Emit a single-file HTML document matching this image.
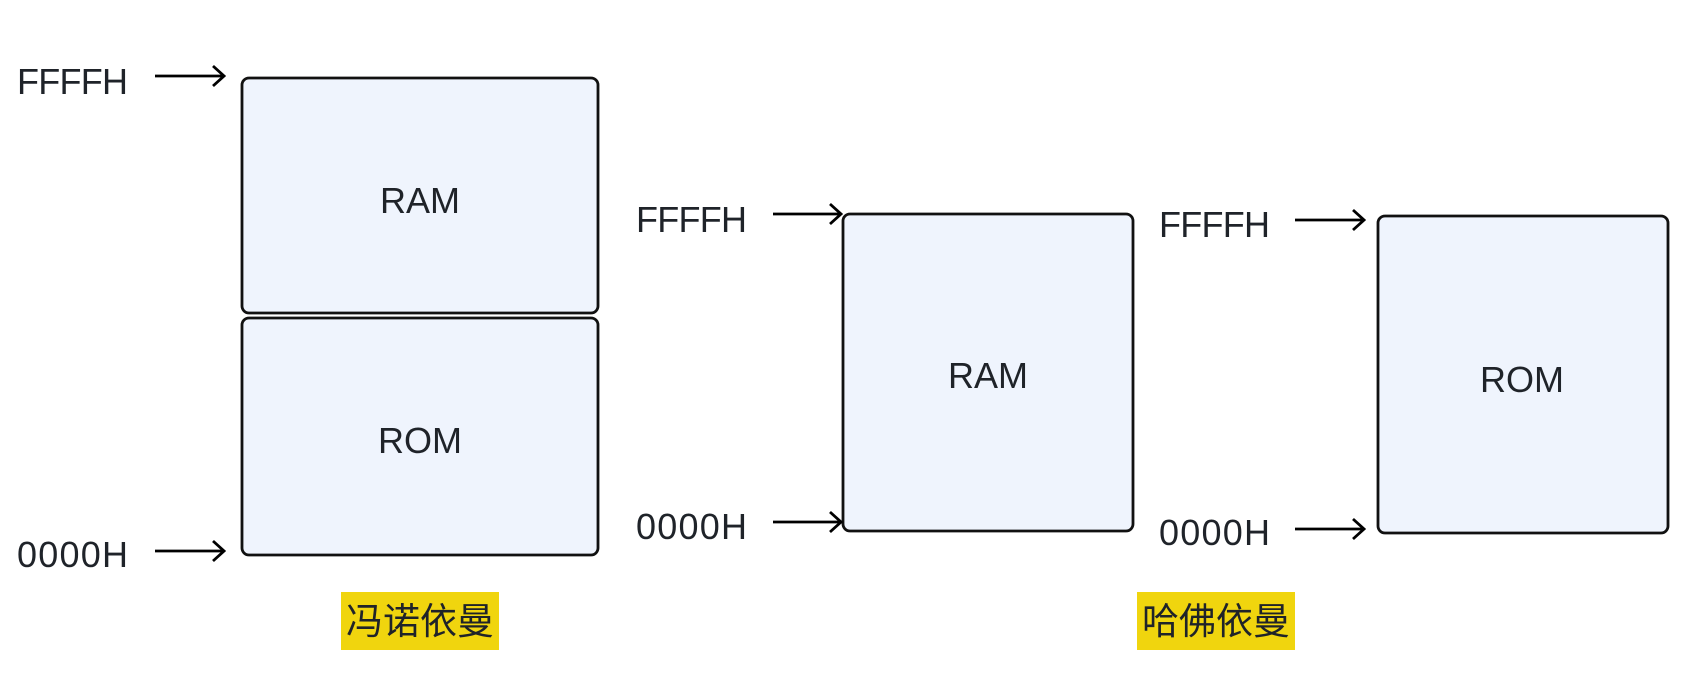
<!DOCTYPE html>
<html><head><meta charset="utf-8"><style>
html,body{margin:0;padding:0;background:#fff;}
text{font-family:"Liberation Sans","Noto Sans CJK SC",sans-serif;fill:#1f2329;}
</style></head><body>
<svg width="1695" height="677" viewBox="0 0 1695 677" xmlns="http://www.w3.org/2000/svg">
<defs><marker id="a" markerWidth="16" markerHeight="24" refX="14" refY="12" orient="auto" markerUnits="userSpaceOnUse"><path d="M3,2 L14,12 L3,22" fill="none" stroke="#000" stroke-width="2.8"/></marker></defs>
<g stroke="#111" stroke-width="2.8" fill="#eff4fd">
<rect x="242" y="78" width="356" height="235" rx="7"/>
<rect x="242" y="318" width="356" height="237" rx="7"/>
<rect x="843" y="214" width="290" height="317" rx="7"/>
<rect x="1378" y="216" width="290" height="317" rx="7"/>
</g>
<g stroke="#000" stroke-width="2.8" marker-end="url(#a)">
<line x1="155" y1="76" x2="224" y2="76"/>
<line x1="155" y1="551" x2="224" y2="551"/>
<line x1="773" y1="214" x2="841" y2="214"/>
<line x1="773" y1="522" x2="841" y2="522"/>
<line x1="1295" y1="220" x2="1364" y2="220"/>
<line x1="1295" y1="529" x2="1364" y2="529"/>
</g>
<g font-size="36">
<text x="17" y="94" textLength="111">FFFFH</text>
<text x="17" y="567" textLength="111">0000H</text>
<text x="636" y="232" textLength="111">FFFFH</text>
<text x="636" y="539" textLength="111">0000H</text>
<text x="1159" y="237" textLength="111">FFFFH</text>
<text x="1159" y="545" textLength="111">0000H</text>
</g>
<g font-size="36" text-anchor="middle">
<text x="420" y="213">RAM</text>
<text x="420" y="453">ROM</text>
<text x="988" y="388">RAM</text>
<text x="1522" y="392">ROM</text>
</g>
<rect x="341" y="592" width="158" height="58" fill="#f0d50e"/>
<rect x="1137" y="592" width="158" height="58" fill="#f0d50e"/>
<g font-size="37" text-anchor="middle">
<text x="420" y="634">冯诺依曼</text>
<text x="1216" y="634">哈佛依曼</text>
</g>
</svg>
</body></html>
